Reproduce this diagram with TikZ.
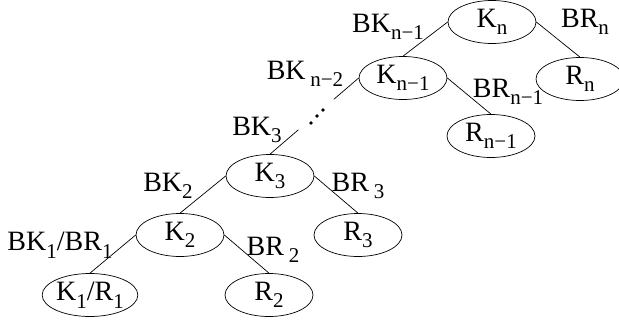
\documentclass[tikz,border=0pt]{standalone}
\usepackage{fontspec}
\setmainfont{Liberation Serif}
\usetikzlibrary{shapes.geometric,calc}
\newcommand{\sbs}[1]{\raisebox{-0.27em}{\fontsize{21}{21}\selectfont #1}}
\tikzset{
  txt/.style={font=\fontsize{28}{32}\selectfont, inner sep=0pt},
  oval/.style={txt, draw, ellipse, minimum width=88pt, minimum height=43pt, line width=0.7pt},
  edge/.style={line width=0.7pt},
  lbl/.style={txt, anchor=center}
}
\begin{document}
\begin{tikzpicture}[x=1pt,y=-1pt]
\useasboundingbox (0,0) rectangle (619,324);
% nodes
\node[oval] (Kn)  at (492,22)  {K\sbs{n}};
\node[oval] (Kn1) at (403,78)  {K\sbs{n−1}};
\node[oval] (Rn)  at (580,79)  {R\sbs{n}};
\node[oval] (Rn1) at (491,136) {R\sbs{n−1}};
\node[oval] (K3)  at (270,176) {K\sbs{3}};
\node[oval] (R3)  at (358,235) {R\sbs{3}};
\node[oval] (K2)  at (180,235) {K\sbs{2}};
\node[oval] (R2)  at (269,295) {R\sbs{2}};
\node[oval] (K1)  at (90,295)  {K\sbs{1}/R\sbs{1}};
% edges
\draw[edge] (Kn.west) -- (Kn1.north);
\draw[edge] (Kn.east) -- (Rn.north);
\draw[edge] (Kn1.east) -- (Rn1.north);
\draw[edge] (K3.east) -- (R3.north);
\draw[edge] (K3.west) -- (K2.north);
\draw[edge] (K2.west) -- (K1.north);
\draw[edge] (K2.east) -- (R2.north);
\coordinate (ga) at ($(K3.north)!0.32!(Kn1.west)$);
\coordinate (gb) at ($(K3.north)!0.72!(Kn1.west)$);
\draw[edge] (K3.north) -- (ga);
\draw[edge] (gb) -- (Kn1.west);
\fill (311,123) circle (1.8pt);
\fill (317,116) circle (1.8pt);
\fill (323,110) circle (1.8pt);
% labels
\node[lbl] (lBKn1) at (388,27)  {BK\sbs{n−1}};
\node[lbl] (lBRn)  at (585,22)  {BR\sbs{n}};
\node[lbl] (lBKn2) at (305,74)  {BK\,\sbs{n−2}};
\node[lbl] (lBRn1) at (508,92)  {BR\sbs{n−1}};
\node[lbl] (lBK3)  at (257,130) {BK\sbs{3}};
\node[lbl] (lBK2)  at (168,186) {BK\sbs{2}};
\node[lbl] (lBR3)  at (358,186) {BR\,\sbs{3}};
\node[lbl] (lBK1)  at (60,245)  {BK\sbs{1}/BR\sbs{1}};
\node[lbl] (lBR2)  at (273,250) {BR\,\sbs{2}};
\end{tikzpicture}
\end{document}
